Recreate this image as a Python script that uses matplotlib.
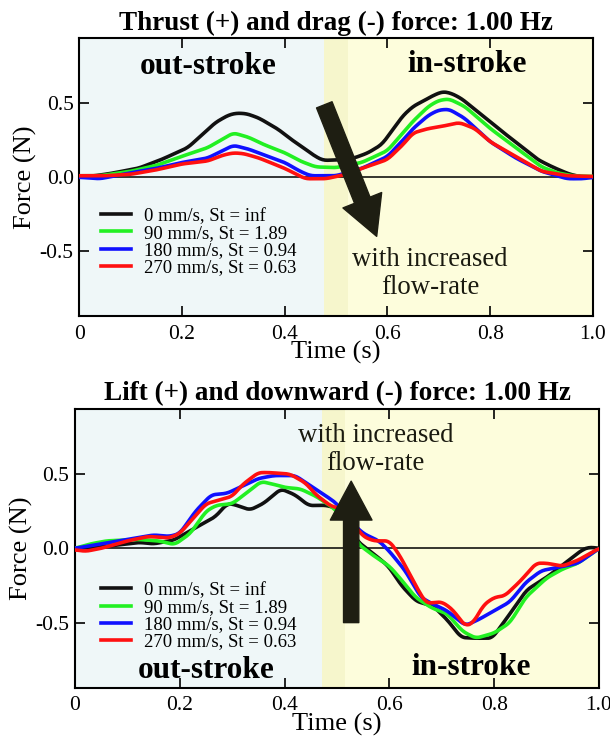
import numpy as np
import matplotlib
matplotlib.use("Agg")
import matplotlib.pyplot as plt

plt.rcParams.update({
    "font.family": ["Liberation Serif", "DejaVu Serif"],
    "xtick.direction": "in", "ytick.direction": "in",
    "xtick.top": True, "ytick.right": True,
    "xtick.major.size": 7, "ytick.major.size": 7,
    "xtick.major.width": 1.2, "ytick.major.width": 1.2,
    "axes.linewidth": 1.5,
})

LABELS = ["0 mm/s, St = inf", "90 mm/s, St = 1.89",
          "180 mm/s, St = 0.94", "270 mm/s, St = 0.63"]
COLORS = ["#111111", "#22f022", "#1010ff", "#ff1010"]

# thrust / drag (top panel) -- (time, force)
thrust_black_t = [0, 0.03, 0.06, 0.116, 0.16, 0.211, 0.24, 0.265, 0.29, 0.306, 0.326,
                  0.35, 0.387, 0.415, 0.441, 0.46, 0.475, 0.508, 0.535, 0.562, 0.589,
                  0.61, 0.63, 0.65, 0.671, 0.69, 0.708, 0.725, 0.745, 0.765, 0.795,
                  0.826, 0.86, 0.893, 0.915, 0.934, 0.955, 0.981, 1.0]
thrust_black_f = [0.0, 0.01, 0.025, 0.062, 0.12, 0.2, 0.29, 0.37, 0.42, 0.434, 0.43,
                  0.4, 0.325, 0.25, 0.188, 0.14, 0.114, 0.118, 0.13, 0.165, 0.222,
                  0.32, 0.416, 0.48, 0.518, 0.555, 0.58, 0.567, 0.53, 0.473, 0.39,
                  0.302, 0.21, 0.119, 0.08, 0.05, 0.02, 0.0, 0.0]
thrust_green_t = [0, 0.04, 0.1, 0.15, 0.2, 0.25, 0.3, 0.33, 0.36, 0.4, 0.43, 0.46,
                  0.5, 0.55, 0.6, 0.63, 0.65, 0.68, 0.7, 0.72, 0.75, 0.8, 0.85, 0.9,
                  0.93, 0.96, 1.0]
thrust_green_f = [0.01, 0.01, 0.04, 0.08, 0.142, 0.2, 0.3, 0.27, 0.22, 0.166, 0.11,
                  0.07, 0.065, 0.1, 0.18, 0.3, 0.38, 0.48, 0.52, 0.53, 0.48, 0.33, 0.2,
                  0.07, 0.03, 0.01, 0.005]
thrust_blue_t = [0, 0.04, 0.1, 0.15, 0.2, 0.25, 0.3, 0.33, 0.36, 0.4, 0.43, 0.45,
                 0.48, 0.5, 0.55, 0.6, 0.63, 0.65, 0.68, 0.7, 0.72, 0.75, 0.8, 0.85,
                 0.9, 0.95, 0.98, 1.0]
thrust_blue_f = [0.0, -0.01, 0.03, 0.06, 0.1, 0.13, 0.216, 0.19, 0.15, 0.1, 0.04, 0.01,
                 0.01, 0.01, 0.06, 0.14, 0.25, 0.33, 0.42, 0.455, 0.46, 0.4, 0.24, 0.13,
                 0.04, -0.01, -0.01, 0.0]
thrust_red_t = [0, 0.05, 0.1, 0.15, 0.2, 0.25, 0.28, 0.3, 0.32, 0.35, 0.4, 0.44,
                0.48, 0.52, 0.55, 0.6, 0.63, 0.65, 0.68, 0.7, 0.74, 0.77, 0.8, 0.85,
                0.9, 0.95, 1.0]
thrust_red_f = [0.01, 0.01, 0.02, 0.05, 0.09, 0.11, 0.15, 0.165, 0.16, 0.13, 0.06,
                -0.01, -0.01, 0.02, 0.06, 0.12, 0.22, 0.3, 0.33, 0.34, 0.37, 0.33, 0.24,
                0.14, 0.04, 0.01, 0.005]

# lift / downward (bottom panel)
lift_black_t = [0, 0.05, 0.1, 0.123, 0.15, 0.189, 0.228, 0.268, 0.29, 0.301, 0.334,
                0.36, 0.393, 0.42, 0.446, 0.479, 0.499, 0.519, 0.539, 0.572, 0.598,
                0.624, 0.651, 0.684, 0.71, 0.737, 0.763, 0.796, 0.822, 0.862, 0.902,
                0.935, 0.968, 0.981, 1.0]
lift_black_f = [0.0, 0.01, 0.03, 0.04, 0.03, 0.056, 0.135, 0.213, 0.3, 0.298, 0.258,
                0.303, 0.4, 0.36, 0.288, 0.29, 0.27, 0.18, 0.047, -0.043, -0.12,
                -0.255, -0.356, -0.39, -0.48, -0.6, -0.605, -0.605, -0.48, -0.28, -0.19,
                -0.1, -0.01, 0.008, 0.0]
lift_green_t = [0, 0.03, 0.06, 0.12, 0.16, 0.19, 0.22, 0.25, 0.27, 0.3, 0.33, 0.355,
                0.38, 0.4, 0.43, 0.46, 0.49, 0.52, 0.54, 0.57, 0.6, 0.62, 0.65, 0.68,
                0.71, 0.74, 0.765, 0.8, 0.83, 0.86, 0.9, 0.93, 0.96, 0.98, 1.0]
lift_green_f = [0.0, 0.03, 0.05, 0.06, 0.05, 0.025, 0.1, 0.25, 0.29, 0.3, 0.38, 0.45,
                0.43, 0.41, 0.4, 0.35, 0.28, 0.18, 0.03, -0.05, -0.12, -0.2, -0.33,
                -0.4, -0.44, -0.56, -0.605, -0.57, -0.5, -0.33, -0.2, -0.14, -0.1,
                -0.05, 0.0]
lift_blue_t = [0, 0.05, 0.1, 0.15, 0.18, 0.2, 0.23, 0.26, 0.29, 0.32, 0.35, 0.38,
               0.42, 0.45, 0.48, 0.5, 0.52, 0.55, 0.58, 0.6, 0.63, 0.66, 0.68, 0.71,
               0.745, 0.77, 0.8, 0.83, 0.86, 0.89, 0.92, 0.96, 1.0]
lift_blue_f = [0.0, 0.03, 0.06, 0.09, 0.08, 0.1, 0.25, 0.36, 0.37, 0.42, 0.47, 0.49,
               0.49, 0.42, 0.35, 0.3, 0.2, 0.1, 0.05, -0.02, -0.15, -0.33, -0.37, -0.42,
               -0.52, -0.48, -0.42, -0.36, -0.23, -0.15, -0.13, -0.1, 0.0]
lift_red_t = [0, 0.02, 0.05, 0.1, 0.14, 0.18, 0.2, 0.22, 0.25, 0.28, 0.3, 0.32, 0.35,
              0.37, 0.41, 0.44, 0.46, 0.49, 0.51, 0.53, 0.55, 0.57, 0.6, 0.62, 0.65,
              0.67, 0.7, 0.72, 0.745, 0.76, 0.78, 0.8, 0.82, 0.85, 0.88, 0.9, 0.93,
              0.96, 1.0]
lift_red_f = [-0.01, -0.02, 0.0, 0.05, 0.08, 0.07, 0.1, 0.18, 0.3, 0.33, 0.35, 0.43,
              0.51, 0.51, 0.5, 0.44, 0.36, 0.28, 0.27, 0.17, 0.08, 0.05, 0.05, -0.05,
              -0.25, -0.37, -0.36, -0.41, -0.525, -0.5, -0.38, -0.33, -0.32, -0.22,
              -0.1, -0.1, -0.12, -0.08, 0.0]

BG_LEFT, BG_MID, BG_RIGHT = "#eff7f8", "#f6f6cc", "#fdfddc"


def smooth(t, f):
    ts = np.linspace(0, 1, 400)
    fs = np.interp(ts, t, f)
    k = np.ones(7) / 7
    fs = np.convolve(np.pad(fs, 3, mode="edge"), k, mode="valid")
    return ts, fs


def panel(ax, series, title, band, leg_anchor):
    ax.axvspan(0, band[0], color=BG_LEFT, zorder=0, lw=0)
    ax.axvspan(band[0], band[1], color=BG_MID, zorder=0, lw=0)
    ax.axvspan(band[1], 1, color=BG_RIGHT, zorder=0, lw=0)
    ax.axhline(0, color="black", lw=1.1, zorder=1)
    for (t, f), c, lab in zip(series, COLORS, LABELS):
        ts, fs = smooth(t, f)
        ax.plot(ts, fs, color=c, lw=2.6, label=lab, zorder=3)
    ax.set_xlim(0, 1)
    ax.set_ylim(-0.94, 0.94)
    ax.set_xticks([0, 0.2, 0.4, 0.6, 0.8, 1.0])
    ax.set_xticklabels(["0", "0.2", "0.4", "0.6", "0.8", "1.0"])
    ax.set_yticks([-0.5, 0, 0.5])
    ax.set_yticklabels(["-0.5", "0.0", "0.5"])
    ax.tick_params(axis="x", labelsize=15.5, pad=6)
    ax.tick_params(axis="y", labelsize=15.5, pad=4)
    ax.set_xlabel("Time (s)", fontsize=19, labelpad=-2)
    ax.set_ylabel("Force (N)", fontsize=19, labelpad=2)
    ax.set_title(title, fontsize=19.5, fontweight="bold", pad=6)
    ax.legend(loc="upper left", bbox_to_anchor=leg_anchor, frameon=False,
              fontsize=13.5, handlelength=1.6, handletextpad=0.7,
              labelspacing=0.0, borderpad=0, borderaxespad=0)


fig = plt.figure(figsize=(6.1, 7.37), dpi=100)
ax1 = fig.add_axes([0.130, 0.571, 0.842, 0.377])
ax2 = fig.add_axes([0.123, 0.0665, 0.859, 0.379])

panel(ax1, [(thrust_black_t, thrust_black_f), (thrust_green_t, thrust_green_f),
            (thrust_blue_t, thrust_blue_f), (thrust_red_t, thrust_red_f)],
      "Thrust (+) and drag (-) force: 1.00 Hz", (0.476, 0.523), (0.042, 0.39))
panel(ax2, [(lift_black_t, lift_black_f), (lift_green_t, lift_green_f),
            (lift_blue_t, lift_blue_f), (lift_red_t, lift_red_f)],
      "Lift (+) and downward (-) force: 1.00 Hz", (0.471, 0.515), (0.05, 0.38))

ax1.annotate("", xy=(0.579, -0.40), xytext=(0.477, 0.49),
             arrowprops=dict(arrowstyle="simple,head_width=30,head_length=28,tail_width=12",
                             mutation_scale=1, shrinkA=0, shrinkB=0,
                             fc="#1e1e12", ec="#1e1e12"), zorder=4)
ax2.annotate("", xy=(0.527, 0.452), xytext=(0.527, -0.5),
             arrowprops=dict(arrowstyle="simple,head_width=30,head_length=28,tail_width=11",
                             mutation_scale=1, shrinkA=0, shrinkB=0,
                             fc="#1e1e12", ec="#1e1e12"), zorder=4)

ax1.text(0.683, -0.65, "with increased\nflow-rate", ha="center", va="center",
         fontsize=19.3, color="#1a1a10", linespacing=1.15, zorder=5)
ax2.text(0.573, 0.665, "with increased\nflow-rate", ha="center", va="center",
         fontsize=19.3, color="#1a1a10", linespacing=1.15, zorder=5)

for ax, ys in ((ax1, (0.75, 0.765)), (ax2, (-0.82, -0.80))):
    ax.text(0.25, ys[0], "out-stroke", ha="center", va="center", fontsize=22.5,
            fontweight="bold", zorder=5)
    ax.text(0.755, ys[1], "in-stroke", ha="center", va="center", fontsize=22.5,
            fontweight="bold", zorder=5)

fig.savefig("out.png", dpi=100)
